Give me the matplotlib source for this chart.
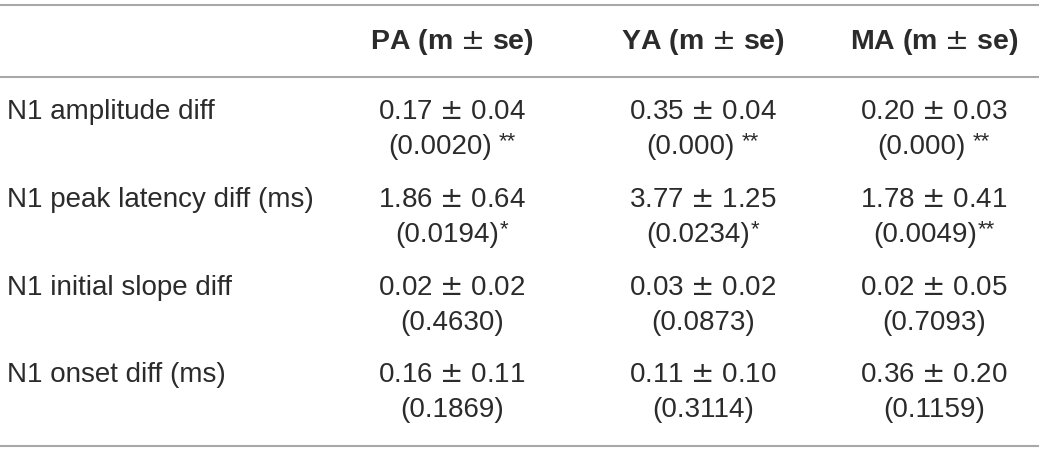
import matplotlib.pyplot as plt

plt.rcParams['font.family'] = ['Liberation Sans', 'DejaVu Sans']
plt.rcParams['mathtext.fontset'] = 'dejavusans'

groups = ['PA', 'YA', 'MA']
measures = ['N1 amplitude diff', 'N1 peak latency diff (ms)',
            'N1 initial slope diff', 'N1 onset diff (ms)']
means = [['0.17', '0.35', '0.20'],
         ['1.86', '3.77', '1.78'],
         ['0.02', '0.03', '0.02'],
         ['0.16', '0.11', '0.36']]
ses = [['0.04', '0.04', '0.03'],
       ['0.64', '1.25', '0.41'],
       ['0.02', '0.02', '0.05'],
       ['0.11', '0.10', '0.20']]
pvals = [['(0.0020)', '(0.000)', '(0.000)'],
         ['(0.0194)', '(0.0234)', '(0.0049)'],
         ['(0.4630)', '(0.0873)', '(0.7093)'],
         ['(0.1869)', '(0.3114)', '(0.1159)']]
stars = [[' **', ' **', ' **'],
         ['*', '*', '**'],
         ['', '', ''],
         ['', '', '']]

fig = plt.figure(figsize=(10.39, 4.54), dpi=100)
ax = fig.add_axes([0, 0, 1, 1])
ax.set_xlim(0, 1039)
ax.set_ylim(454, 0)
ax.axis('off')
renderer = fig.canvas.get_renderer()

txt = '#2b2b2b'
line_c = '#a8a8a8'
fs = 20
star_fs = 16

col_x = [452, 703, 934]
row_y = [112, 200, 288, 375]
gap = 35

for y in [5, 77, 446]:
    ax.axhline(y, color=line_c, lw=1.5)

for g, x in zip(groups, col_x):
    ax.text(x, 42, g + r' (m $\pm$ se)', ha='center', va='center',
            fontsize=fs + 0.5, fontweight='bold', color=txt)

for i, m in enumerate(measures):
    y = row_y[i]
    ax.text(7, y, m, ha='left', va='center', fontsize=fs, color=txt)
    for j, x in enumerate(col_x):
        ax.text(x, y, means[i][j] + r' $\pm$ ' + ses[i][j], ha='center',
                va='center', fontsize=fs, color=txt)
        s = stars[i][j]
        t = ax.text(x, y + gap, pvals[i][j], ha='left', va='center',
                    fontsize=fs, color=txt)
        w1 = t.get_window_extent(renderer).width
        w2 = 0
        if s:
            lead = 7 if s.startswith(' ') else 1
            st = ax.text(0, y + gap - 5, s.strip(), ha='left', va='center',
                         fontsize=star_fs, color=txt)
            w2 = st.get_window_extent(renderer).width + lead
        x0 = x - (w1 + w2) / 2
        t.set_x(x0)
        if s:
            st.set_x(x0 + w1 + lead)

fig.savefig('out.png', dpi=100)
